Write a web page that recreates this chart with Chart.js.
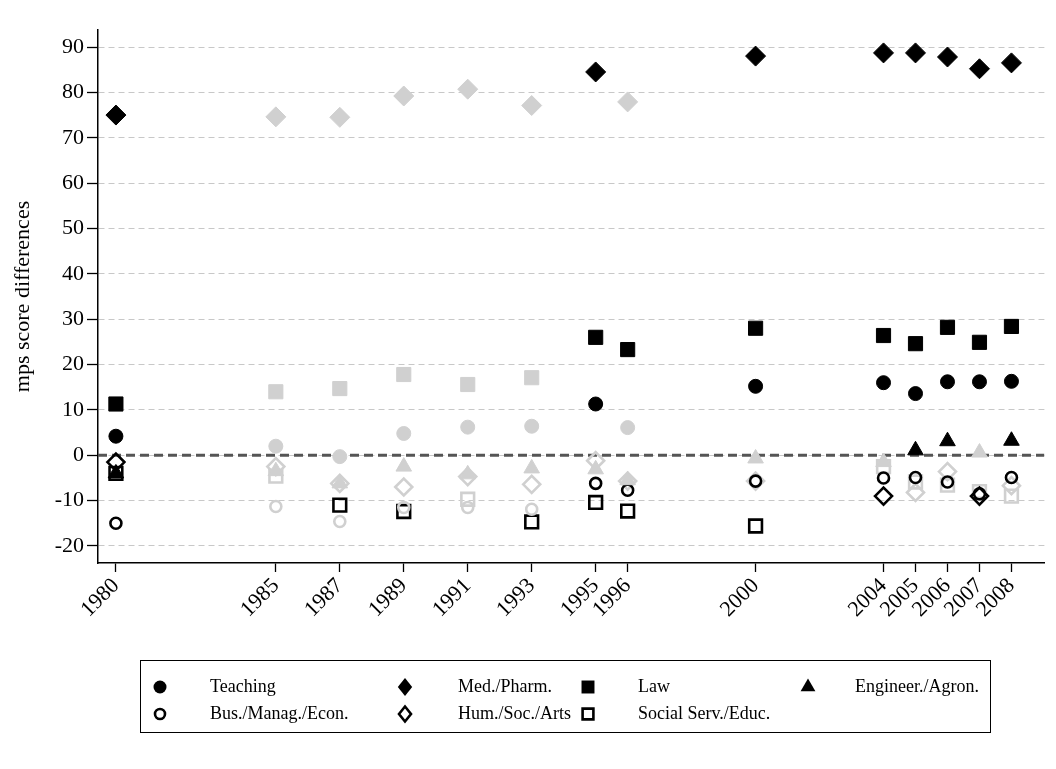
<!DOCTYPE html>
<html>
<head>
<meta charset="utf-8">
<script src="https://cdn.jsdelivr.net/npm/chart.js@4.4.0/dist/chart.umd.min.js"></script>
<style>
  body { margin: 0; background: #fff; }
  #wrap { width: 1056px; height: 769px; }
</style>
</head>
<body>
<div id="wrap"><canvas id="myChart" width="1056" height="769"></canvas></div>
<script>
// survey years (x positions) and y tick values
const years = [1980, 1985, 1987, 1989, 1991, 1993, 1995, 1996, 2000, 2004, 2005, 2006, 2007, 2008];
const yTicks = [-20, -10, 0, 10, 20, 30, 40, 50, 60, 70, 80, 90];

// score differences per field, 1 = significant (black), 0 = not (gray)
const teaching    = [4.2, 2.0, -0.3, 4.8, 6.2, 6.4, 11.3, 6.1, 15.2, 16.0, 13.6, 16.2, 16.2, 16.3];
const teachingSig = [1, 0, 0, 0, 0, 0, 1, 0, 1, 1, 1, 1, 1, 1];
const medPharm    = [75.0, 74.6, 74.5, 79.2, 80.7, 77.1, 84.5, 77.9, 88.0, 88.7, 88.7, 87.8, 85.2, 86.5];
const medPharmSig = [1, 0, 0, 0, 0, 0, 1, 0, 1, 1, 1, 1, 1, 1];
const law         = [11.3, 14.0, 14.7, 17.8, 15.6, 17.1, 26.0, 23.3, 28.0, 26.4, 24.6, 28.2, 24.9, 28.4];
const lawSig      = [1, 0, 0, 0, 0, 0, 1, 1, 1, 1, 1, 1, 1, 1];
const engineer    = [-4.0, -3.5, -6.2, -2.5, -4.2, -2.9, -3.1, -5.5, -0.7, -1.5, 1.1, 3.1, 0.6, 3.2];
const engineerSig = [1, 0, 0, 0, 0, 0, 0, 0, 0, 0, 1, 1, 0, 1];
const business    = [-15.0, -11.3, -14.6, -11.5, -11.5, -11.9, -6.2, -7.7, -5.7, -5.0, -4.9, -5.9, -8.5, -4.9];
const businessSig = [1, 0, 0, 0, 0, 0, 1, 1, 1, 1, 1, 1, 1, 1];
const humanities  = [-1.5, -2.5, -6.2, -7.0, -4.7, -6.4, -1.2, -5.7, -5.7, -9.0, -8.2, -3.6, -9.0, -6.7];
const humanitiesSig = [1, 0, 0, 0, 0, 0, 0, 0, 0, 1, 0, 0, 1, 0];
const socialServ  = [-4.0, -4.6, -11.0, -12.4, -9.7, -14.7, -10.4, -12.3, -15.6, -2.5, -5.9, -6.6, -8.0, -9.0];
const socialServSig = [1, 0, 1, 1, 0, 1, 1, 1, 1, 0, 0, 0, 0, 0];

const BLACK = '#000000';
const GRAY = '#d0d0d0';
const FONT = "'Liberation Serif', 'Times New Roman', serif";

const xMin = 1979.44, xMax = 2009.03;

function makeSet(label, values, sig, style, radius, hollow) {
    return {
        label: label,
        type: 'scatter',
        data: years.map((yr, i) => ({ x: yr, y: values[i] })),
        pointStyle: style,
        pointRadius: radius,
        pointHoverRadius: radius,
        pointBackgroundColor: hollow ? 'rgba(0,0,0,0)' : sig.map(s => s ? BLACK : GRAY),
        pointBorderColor: sig.map(s => s ? BLACK : GRAY),
        pointBorderWidth: hollow ? 2.6 : 1,
        showLine: false,
        order: 1,
        hollow: hollow
    };
}

const series = [
    makeSet('Teaching', teaching, teachingSig, 'circle', 7, false),
    makeSet('Med./Pharm.', medPharm, medPharmSig, 'rectRot', 10, false),
    makeSet('Law', law, lawSig, 'rect', 10, false),
    makeSet('Engineer./Agron.', engineer, engineerSig, 'triangle', 9, false),
    makeSet('Bus./Manag./Econ.', business, businessSig, 'circle', 5.5, true),
    makeSet('Hum./Soc./Arts', humanities, humanitiesSig, 'rectRot', 8.5, true),
    makeSet('Social Serv./Educ.', socialServ, socialServSig, 'rect', 9, true)
];

// reference line at zero
const zeroLine = {
    label: 'zero',
    type: 'line',
    data: [{ x: xMin, y: 0 }, { x: xMax, y: 0 }],
    borderColor: '#555555',
    borderWidth: 3,
    borderDash: [9, 5],
    pointRadius: 0,
    order: 10
};

// legend in a box under the chart
const legendCols = [160, 405, 588, 808];
const legendTextX = [210, 458, 638, 855];
const legendRows = [687, 714];

function drawShape(ctx, style, x, y, r, hollow) {
    ctx.beginPath();
    if (style === 'circle') {
        ctx.arc(x, y, r, 0, Math.PI * 2);
    } else if (style === 'rectRot') {
        ctx.moveTo(x - r * 0.8, y); ctx.lineTo(x, y - r); ctx.lineTo(x + r * 0.8, y); ctx.lineTo(x, y + r);
    } else if (style === 'rect') {
        ctx.rect(x - r * 0.72, y - r * 0.72, r * 1.44, r * 1.44);
    } else {
        ctx.moveTo(x, y - r); ctx.lineTo(x + r * 0.87, y + r * 0.5); ctx.lineTo(x - r * 0.87, y + r * 0.5);
    }
    ctx.closePath();
    if (hollow) {
        ctx.lineWidth = 2.6; ctx.strokeStyle = BLACK; ctx.stroke();
    } else {
        ctx.fillStyle = BLACK; ctx.fill();
    }
}

const boxLegend = {
    id: 'boxLegend',
    afterDraw(chart) {
        const ctx = chart.ctx;
        ctx.save();
        ctx.strokeStyle = BLACK;
        ctx.lineWidth = 1;
        ctx.strokeRect(140.5, 660.5, 850, 72);
        ctx.font = '18px ' + FONT;
        ctx.textBaseline = 'middle';
        ctx.textAlign = 'left';
        series.forEach((s, i) => {
            const row = i < 4 ? 0 : 1;
            const col = i < 4 ? i : i - 4;
            const y = legendRows[row];
            let r;
            if (s.pointStyle === 'circle') r = s.hollow ? 5 : 6.5;
            else if (s.pointStyle === 'rectRot') r = s.hollow ? 7.5 : 9;
            else if (s.pointStyle === 'rect') r = s.hollow ? 7.5 : 9;
            else r = 8.5;
            drawShape(ctx, s.pointStyle, legendCols[col], y, r, s.hollow);
            ctx.fillStyle = BLACK;
            ctx.fillText(s.label, legendTextX[col], y);
        });
        ctx.restore();
    }
};

new Chart(document.getElementById('myChart'), {
    type: 'scatter',
    data: { datasets: [zeroLine].concat(series) },
    options: {
        responsive: false,
        animation: false,
        devicePixelRatio: 1,
        layout: { padding: { left: 0, top: 30, right: 11, bottom: 136 } },
        plugins: {
            legend: { display: false },
            tooltip: { enabled: false }
        },
        scales: {
            x: {
                type: 'linear',
                min: xMin,
                max: xMax,
                afterBuildTicks: s => { s.ticks = years.map(v => ({ value: v })); },
                afterFit: s => { s.height = 70; },
                grid: {
                    drawOnChartArea: false,
                    tickLength: 9,
                    tickColor: BLACK,
                    tickWidth: 1.3
                },
                border: { display: true, color: BLACK, width: 1.5 },
                ticks: {
                    autoSkip: false,
                    minRotation: 45,
                    maxRotation: 45,
                    padding: 1,
                    color: BLACK,
                    font: { family: FONT, size: 22 },
                    callback: v => String(v)
                }
            },
            y: {
                min: -23.75,
                max: 93.75,
                afterBuildTicks: s => { s.ticks = yTicks.map(v => ({ value: v })); },
                afterFit: s => { s.width = 98; },
                grid: {
                    color: '#c8c8c8',
                    lineWidth: 1,
                    tickLength: 11,
                    tickColor: BLACK,
                    tickWidth: 1.3,
                    tickBorderDash: [0, 0]
                },
                border: { display: true, color: BLACK, width: 1.5, dash: [6, 4] },
                ticks: {
                    padding: 3,
                    color: BLACK,
                    font: { family: FONT, size: 22 }
                },
                title: {
                    display: true,
                    text: 'mps score differences',
                    color: BLACK,
                    font: { family: FONT, size: 22 },
                    padding: { top: 10, bottom: 4 }
                }
            }
        }
    },
    plugins: [boxLegend]
});
</script>
</body>
</html>
